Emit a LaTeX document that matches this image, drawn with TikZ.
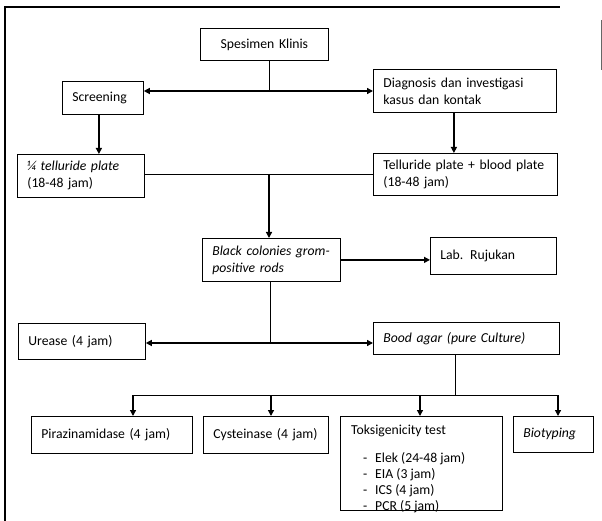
\documentclass[tikz,border=0pt]{standalone}
\usepackage{fontspec}
\setmainfont{Carlito}
\usetikzlibrary{arrows.meta}

\begin{document}
\begin{tikzpicture}[x=1pt,y=-1pt,
	box/.style={draw,line width=0.8pt,anchor=north west,align=left,inner xsep=10pt,inner ysep=0pt,font=\fontsize{13.7}{17}\selectfont},
	list/.style={anchor=north west,align=left,inner sep=0pt,font=\fontsize{13.7}{16}\selectfont},
	link/.style={line width=0.8pt},
	arr/.style={line width=1.3pt,-{Triangle[length=6pt,width=6pt]}},
	both/.style={line width=1.3pt,{Triangle[length=6pt,width=6pt]}-{Triangle[length=6pt,width=6pt]}},
	frame/.style={line width=1.2pt}
	]
	\useasboundingbox (0,0) rectangle (602,521);
	\draw[frame] (5,521) -- (5,7) -- (560,7);
	\draw[line width=0.6pt,black!60] (601,20) -- (601,70);

	\node[box,text width=108pt,minimum height=32pt,align=center] (spes) at (200,28) {Spesimen Klinis};
	\node[box,text width=61pt,minimum height=33pt] (screen) at (62,81) {Screening};
	\node[box,text width=163pt,minimum height=43pt] (diag) at (373,69) {Diagnosis dan investigasi\\kasus dan kontak};
	\node[box,text width=107pt,minimum height=43pt] (quarter) at (17,154) {\textit{¼ telluride plate}\\(18-48 jam)};
	\node[box,text width=164pt,minimum height=42pt] (tbp) at (373,153) {Telluride plate + blood plate\\(18-48 jam)};
	\node[box,text width=118pt,minimum height=43pt] (black) at (202,238) {\textit{Black colonies grom-}\\\textit{positive rods}};
	\node[box,text width=106pt,minimum height=37pt] (lab) at (430,237) {Lab. Rujukan};
	\node[box,text width=107pt,minimum height=36pt] (urease) at (18,323) {Urease (4 jam)};
	\node[box,text width=166pt,minimum height=32pt] (agar) at (373,322) {\textit{Bood agar (pure Culture)}};
	\node[box,text width=141pt,minimum height=37pt] (pira) at (31,416) {Pirazinamidase (4 jam)};
	\node[box,text width=105pt,minimum height=37pt] (cyst) at (203,416) {Cysteinase (4 jam)};
	\node[box,text width=142pt,minimum height=94pt] (toks) at (340,416) {};
	\node[list] (toksList) at (351,425) {Toksigenicity test\\[12pt]
		\hspace*{12pt}\makebox[12pt][l]{-}Elek (24-48 jam)\\
		\hspace*{12pt}\makebox[12pt][l]{-}EIA (3 jam)\\
		\hspace*{12pt}\makebox[12pt][l]{-}ICS (4 jam)\\
		\hspace*{12pt}\makebox[12pt][l]{-}PCR (5 jam)};
	\node[box,text width=60pt,minimum height=36pt] (bio) at (513,416) {\textit{Biotyping}};

	\coordinate (j1) at (269,91);
	\coordinate (j2) at (269,174);
	\coordinate (j3) at (270,343);
	\coordinate (j4) at (455,395);
	\coordinate (b1) at (133,395);
	\coordinate (b2) at (271,395);
	\coordinate (b3) at (420,395);
	\coordinate (b4) at (558,395);

	\draw[link] (j1 |- spes.south) -- (j1);
	\draw[both] (j1 -| screen.east) -- (j1 -| diag.west);
	\draw[arr] ([xshift=-4pt]screen.south) -- ([xshift=-4pt]screen.south |- quarter.north);
	\draw[arr] ([xshift=-11pt]diag.south) -- ([xshift=-11pt]diag.south |- tbp.north);
	\draw[link] (j2 -| quarter.east) -- (j2 -| tbp.west);
	\draw[arr] (j2) -- (j2 |- black.north);
	\draw[arr] (black.east) -- (black.east -| lab.west);
	\draw[link] (j3 |- black.south) -- (j3);
	\draw[both] (j3 -| urease.east) -- (j3 -| agar.west);
	\draw[link] (j4 |- agar.south) -- (j4);
	\draw[link] (b1) -- (b4);
	\draw[arr] (b1) -- (b1 |- pira.north);
	\draw[arr] (b2) -- (b2 |- cyst.north);
	\draw[arr] (b3) -- (b3 |- toks.north);
	\draw[arr] (b4) -- (b4 |- bio.north);
\end{tikzpicture}
\end{document}
